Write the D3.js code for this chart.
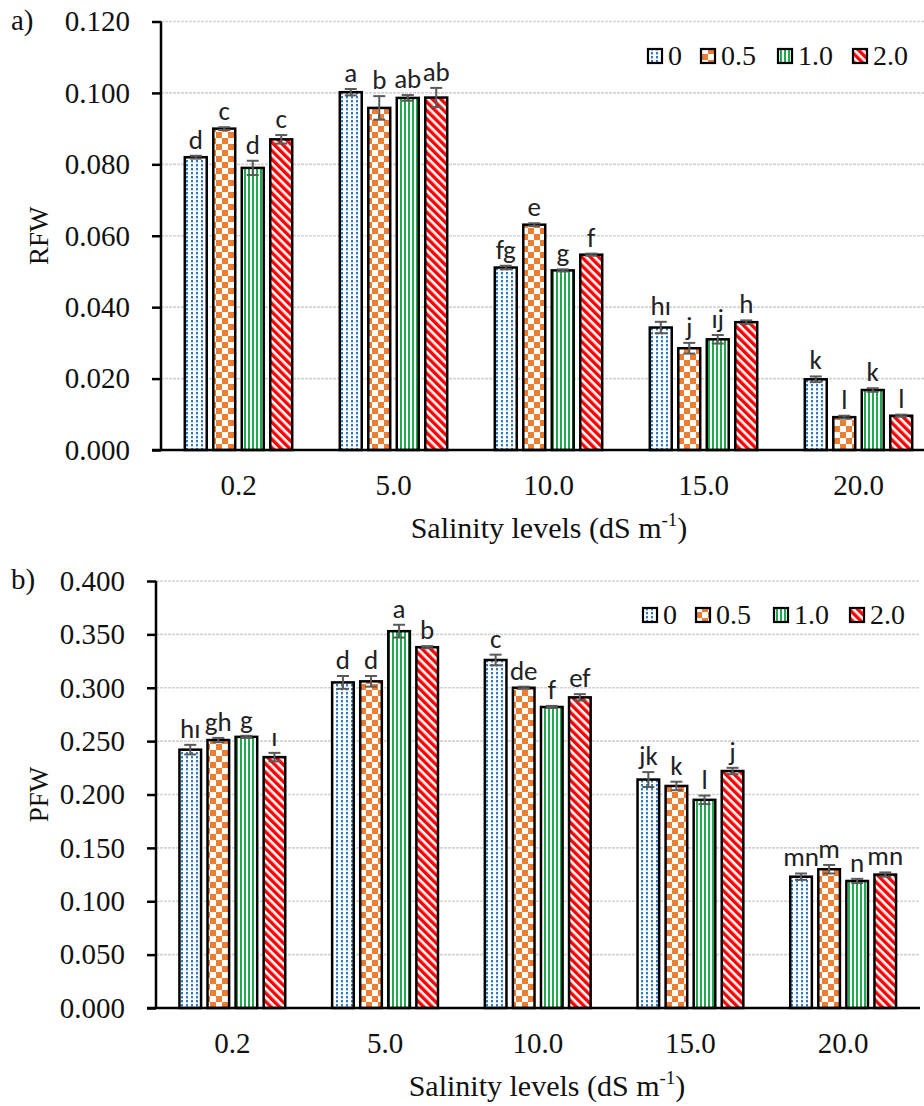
<!DOCTYPE html>
<html>
<head>
<meta charset="utf-8">
<script src="https://cdn.jsdelivr.net/npm/d3@7"></script>
<style>
  html, body { margin: 0; padding: 0; background: #fff; }
  svg { display: block; }
  .serif { font-family: "Times New Roman", "Liberation Serif", Tinos, serif; }
</style>
</head>
<body>
<svg id="fig" width="924" height="1106"></svg>
<script>
// Salinity levels (dS m-1) and treatment series
const categories = ["0.2", "5.0", "10.0", "15.0", "20.0"];
const series = ["0", "0.5", "1.0", "2.0"];

// RFW: one row per salinity level, one value per series
const rfwMeans = [
  [0.0820, 0.0900, 0.0790, 0.0870],
  [0.1002, 0.0958, 0.0986, 0.0987],
  [0.0511, 0.0631, 0.0503, 0.0547],
  [0.0343, 0.0285, 0.0310, 0.0358],
  [0.0198, 0.0092, 0.0168, 0.0096]
];
const rfwErrors = [
  [0.0004, 0.0004, 0.0020, 0.0012],
  [0.0009, 0.0033, 0.0008, 0.0027],
  [0.0005, 0.0004, 0.0003, 0.0003],
  [0.0016, 0.0015, 0.0012, 0.0005],
  [0.0008, 0.0004, 0.0005, 0.0003]
];
const rfwLetters = [
  ["d", "c", "d", "c"],
  ["a", "b", "ab", "ab"],
  ["fg", "e", "g", "f"],
  ["hı", "j", "ıj", "h"],
  ["k", "l", "k", "l"]
];
const rfwTicks = [0, 0.02, 0.04, 0.06, 0.08, 0.10, 0.12];

// PFW
const pfwMeans = [
  [0.242, 0.251, 0.254, 0.235],
  [0.305, 0.306, 0.353, 0.338],
  [0.326, 0.300, 0.282, 0.291],
  [0.214, 0.208, 0.195, 0.222],
  [0.123, 0.130, 0.119, 0.125]
];
const pfwErrors = [
  [0.0045, 0.0020, 0.0010, 0.0040],
  [0.0060, 0.0050, 0.0060, 0.0010],
  [0.0050, 0.0010, 0.0010, 0.0030],
  [0.0070, 0.0040, 0.0040, 0.0030],
  [0.0030, 0.0040, 0.0020, 0.0020]
];
const pfwLetters = [
  ["hı", "gh", "g", "ı"],
  ["d", "d", "a", "b"],
  ["c", "de", "f", "ef"],
  ["jk", "k", "l", "j"],
  ["mn", "m", "n", "mn"]
];
const pfwTicks = [0, 0.05, 0.10, 0.15, 0.20, 0.25, 0.30, 0.35, 0.40];

const svg = d3.select("#fig");
const sans = "Carlito, Lato, 'Open Sans', sans-serif";

// ---- fill patterns for the four series ----
const defs = svg.append("defs");

// 0: blue dotted grid
const pBlue = defs.append("pattern").attr("id", "pat0")
  .attr("patternUnits", "userSpaceOnUse").attr("width", 5).attr("height", 4);
pBlue.append("rect").attr("width", 5).attr("height", 4).attr("fill", "#fff");
pBlue.append("rect").attr("x", 1).attr("y", 0).attr("width", 2).attr("height", 2).attr("fill", "#2f7cc4");
pBlue.append("rect").attr("x", 1).attr("y", 2).attr("width", 2).attr("height", 1).attr("fill", "#a9cbe9");

// 0.5: orange checkerboard
const pOr = defs.append("pattern").attr("id", "pat1")
  .attr("patternUnits", "userSpaceOnUse").attr("width", 12).attr("height", 12);
pOr.append("rect").attr("width", 12).attr("height", 12).attr("fill", "#fff");
pOr.append("rect").attr("x", 0).attr("y", 0).attr("width", 6).attr("height", 6).attr("fill", "#ed7d31");
pOr.append("rect").attr("x", 6).attr("y", 6).attr("width", 6).attr("height", 6).attr("fill", "#ed7d31");

// 1.0: green vertical stripes
const pGr = defs.append("pattern").attr("id", "pat2")
  .attr("patternUnits", "userSpaceOnUse").attr("width", 4).attr("height", 4);
pGr.append("rect").attr("width", 4).attr("height", 4).attr("fill", "#fff");
pGr.append("rect").attr("x", 0).attr("width", 2).attr("height", 4).attr("fill", "#1faa4f");

// 2.0: red wide downward diagonal
const pRd = defs.append("pattern").attr("id", "pat3")
  .attr("patternUnits", "userSpaceOnUse").attr("width", 6).attr("height", 6)
  .attr("patternTransform", "rotate(-45)");
pRd.append("rect").attr("width", 6).attr("height", 6).attr("fill", "#fff");
pRd.append("rect").attr("x", 0).attr("width", 3.4).attr("height", 6).attr("fill", "#ff0000");

const fills = series.map((s, i) => `url(#pat${i})`);

function drawPanel(cfg) {
  const g = svg.append("g");
  const x = d3.scaleBand().domain(categories)
    .range([cfg.x0, cfg.x0 + cfg.band * categories.length]);
  const xs = d3.scaleBand().domain(series)
    .range([0, x.bandwidth()]).paddingInner(0.23).paddingOuter(0.835);
  const y = d3.scaleLinear().domain([0, cfg.max]).range([cfg.y0, cfg.yTop]);

  // gridlines
  g.append("g").selectAll("line").data(cfg.ticks.slice(1)).join("line")
    .attr("x1", cfg.x0).attr("x2", cfg.gridEnd)
    .attr("y1", d => y(d)).attr("y2", d => y(d))
    .attr("stroke", "#d4d4d4").attr("stroke-width", 1.6)
    .attr("stroke-dasharray", "3,1");

  // y axis
  const yAxis = d3.axisLeft(y).tickValues(cfg.ticks)
    .tickFormat(d3.format(".3f")).tickSize(9).tickPadding(22);
  const ya = g.append("g").attr("transform", `translate(${cfg.x0},0)`).call(yAxis);
  ya.attr("font-family", null).attr("font-size", null);
  ya.select(".domain").attr("stroke", "#000").attr("stroke-width", 2.5)
    .attr("d", `M0,${cfg.y0}V${cfg.yTop}`);
  ya.selectAll(".tick line").attr("stroke", "#000").attr("stroke-width", 2.5);
  ya.selectAll(".tick text").attr("class", "serif").attr("font-size", 29)
    .attr("fill", "#111");

  // bars
  const rows = [];
  categories.forEach((c, ci) => series.forEach((s, si) => rows.push({
    c, s, si, v: cfg.means[ci][si], e: cfg.errors[ci][si], lab: cfg.letters[ci][si]
  })));
  g.append("g").selectAll("rect").data(rows).join("rect")
    .attr("x", d => x(d.c) + xs(d.s))
    .attr("width", xs.bandwidth())
    .attr("y", d => y(d.v))
    .attr("height", d => cfg.y0 - y(d.v))
    .attr("fill", d => fills[d.si])
    .attr("stroke", "#000").attr("stroke-width", 2.5);

  // x axis line
  g.append("line").attr("x1", cfg.x0 - 9).attr("x2", cfg.axisEnd)
    .attr("y1", cfg.y0).attr("y2", cfg.y0)
    .attr("stroke", "#000").attr("stroke-width", 2.5);

  // error bars
  const eb = g.append("g").attr("stroke", "#5a5a5a").attr("stroke-width", 2);
  rows.forEach(d => {
    const cx = x(d.c) + xs(d.s) + xs.bandwidth() / 2;
    const t = y(d.v + d.e), b = y(d.v - d.e);
    eb.append("line").attr("x1", cx).attr("x2", cx).attr("y1", t).attr("y2", b);
    eb.append("line").attr("x1", cx - 6).attr("x2", cx + 6).attr("y1", t).attr("y2", t);
    eb.append("line").attr("x1", cx - 6).attr("x2", cx + 6).attr("y1", b).attr("y2", b);
  });

  // significance letters
  g.append("g").selectAll("text").data(rows).join("text")
    .attr("x", d => x(d.c) + xs(d.s) + xs.bandwidth() / 2)
    .attr("y", d => y(d.v + d.e) - 7)
    .attr("text-anchor", "middle")
    .attr("font-family", sans).attr("font-size", 27).attr("fill", "#222")
    .text(d => d.lab);

  // category labels
  g.append("g").selectAll("text").data(categories).join("text")
    .attr("class", "serif")
    .attr("x", d => x(d) + x.bandwidth() / 2)
    .attr("y", cfg.y0 + 45)
    .attr("text-anchor", "middle")
    .attr("font-size", 29).attr("fill", "#111")
    .text(d => d);

  // x title
  const xt = g.append("text").attr("class", "serif")
    .attr("x", cfg.titleX).attr("y", cfg.y0 + 88)
    .attr("text-anchor", "middle")
    .attr("font-size", 30).attr("fill", "#111");
  xt.append("tspan").text("Salinity levels (dS m");
  xt.append("tspan").attr("font-size", 19).attr("dy", -12).text("-1");
  xt.append("tspan").attr("dy", 12).text(")");

  // y title
  g.append("text").attr("class", "serif")
    .attr("transform", `translate(${cfg.yTitleX},${(cfg.y0 + cfg.yTop) / 2}) rotate(-90)`)
    .attr("text-anchor", "middle")
    .attr("font-size", 27).attr("fill", "#111").text(cfg.yTitle);

  // panel tag
  g.append("text").attr("class", "serif").attr("x", 11).attr("y", cfg.yTop + 8)
    .attr("font-size", 29).attr("fill", "#111")
    .text(cfg.tag);

  // legend
  const lg = g.append("g");
  series.forEach((s, i) => {
    lg.append("rect").attr("x", cfg.legX[i]).attr("y", cfg.legY - 7)
      .attr("width", 14).attr("height", 14)
      .attr("fill", fills[i]).attr("stroke", "#000").attr("stroke-width", 2.2);
    lg.append("text").attr("class", "serif")
      .attr("x", cfg.legX[i] + 20).attr("y", cfg.legY + 9)
      .attr("font-size", 28).attr("fill", "#111")
      .text(s);
  });
}

drawPanel({
  means: rfwMeans, errors: rfwErrors, letters: rfwLetters, ticks: rfwTicks,
  max: 0.12, x0: 161, band: 155, y0: 450, yTop: 21.5,
  gridEnd: 924, axisEnd: 924, titleX: 549, yTitleX: 48, yTitle: "RFW", tag: "a)",
  legX: [648, 701, 778, 853], legY: 56
});

drawPanel({
  means: pfwMeans, errors: pfwErrors, letters: pfwLetters, ticks: pfwTicks,
  max: 0.40, x0: 156, band: 152.7, y0: 1008, yTop: 581,
  gridEnd: 920, axisEnd: 920, titleX: 547, yTitleX: 48, yTitle: "PFW", tag: "b)",
  legX: [643, 696, 774, 850], legY: 615
});
</script>
</body>
</html>
